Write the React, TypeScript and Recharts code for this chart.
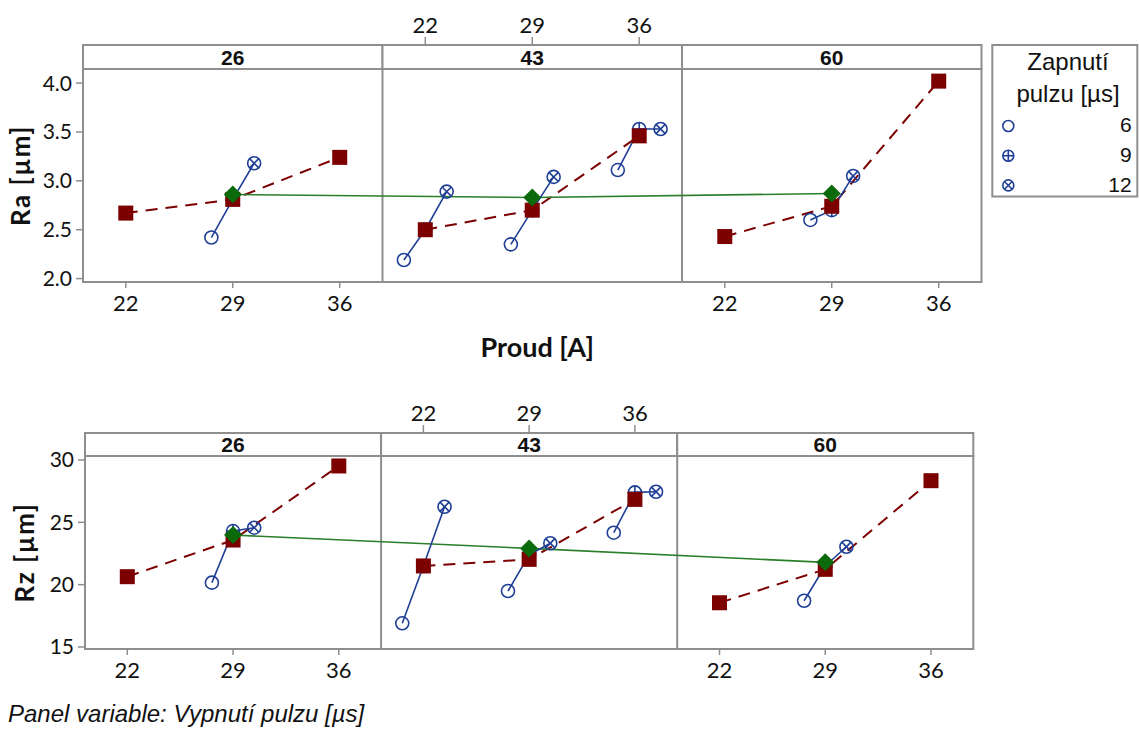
import React from "react";
import {
  ComposedChart,
  Line,
  XAxis,
  YAxis,
  Label,
  ReferenceLine,
  ReferenceArea,
} from "recharts";

// panel variable (Vypnutí pulzu), x variable (Proud), legend variable (Zapnutí pulzu)
const panels = [26, 43, 60];
const currents = [22, 29, 36];
const pulseOn = [6, 9, 12];

// Ra: mean per current in each panel (red squares)
const raCurrentMeans = [
  [2.67, 2.81, 3.24],
  [2.5, 2.7, 3.46],
  [2.43, 2.74, 4.02],
];
// Ra: panel means (green diamonds)
const raPanelMeans = [2.86, 2.83, 2.87];
// Ra: pulse-on means [6, 9, 12] per current, null = single observation
const raPulse26 = [null, [2.42, 2.81, 3.18], null];
const raPulse43 = [
  [2.19, 2.5, 2.89],
  [2.35, 2.7, 3.04],
  [3.11, 3.53, 3.53],
];
const raPulse60 = [null, [2.6, 2.7, 3.05], null];

// Rz
const rzCurrentMeans = [
  [20.64, 23.58, 29.52],
  [21.5, 22.03, 26.84],
  [18.55, 21.23, 28.34],
];
const rzPanelMeans = [23.98, 22.91, 21.79];
const rzPulse26 = [null, [20.16, 24.3, 24.57], null];
const rzPulse43 = [
  [16.9, 21.5, 26.25],
  [19.49, 22.4, 23.32],
  [24.17, 27.4, 27.45],
];
const rzPulse60 = [null, [18.71, 21.5, 23.04], null];

const raTicks = [2.0, 2.5, 3.0, 3.5, 4.0];
const rzTicks = [15, 20, 25, 30];

const GRID = "#8e8e8e";
const RED = "#7d0000";
const BLUE = "#1f3f96";
const GREEN = "#0b6a0b";
const GREEN_LINE = "#2b7f2b";
const TICK_FONT = "Lato, sans-serif";
const ARIAL = "'Liberation Sans', Arial, sans-serif";

// each panel spans the same current range; panels are laid side by side on one numeric axis
const X_MIN = 19.2;
const PANEL_SPAN = 19.6;
const DODGE = 1.4;
const gx = (p: number, c: number, k = 1) =>
  p * PANEL_SPAN + (c - X_MIN) + (k - 1) * DODGE;
const toLocal = (v: number) =>
  Math.round(v - Math.floor((v + 1e-6) / PANEL_SPAN) * PANEL_SPAN + X_MIN);

function PulseSymbol({ cx, cy, k, r = 6.5 }: { cx: number; cy: number; k: number; r?: number }) {
  const d = r * 0.7071;
  return (
    <g stroke={BLUE} strokeWidth={1.6} fill="none">
      <circle cx={cx} cy={cy} r={r} />
      {k === 1 && (
        <>
          <line x1={cx - r} x2={cx + r} y1={cy} y2={cy} />
          <line x1={cx} x2={cx} y1={cy - r} y2={cy + r} />
        </>
      )}
      {k === 2 && (
        <>
          <line x1={cx - d} x2={cx + d} y1={cy - d} y2={cy + d} />
          <line x1={cx - d} x2={cx + d} y1={cy + d} y2={cy - d} />
        </>
      )}
    </g>
  );
}

const squareDot = (props: any) => {
  const { cx, cy, index } = props;
  if (cx == null || cy == null) return <g key={index} />;
  return <rect key={index} x={cx - 7.5} y={cy - 7.5} width={15} height={15} fill={RED} />;
};

const diamondDot = (props: any) => {
  const { cx, cy, index } = props;
  if (cx == null || cy == null) return <g key={index} />;
  return (
    <path
      key={index}
      d={`M${cx},${cy - 9}L${cx + 9},${cy}L${cx},${cy + 9}L${cx - 9},${cy}Z`}
      fill={GREEN}
    />
  );
};

const pulseDot = (k: number) => (props: any) => {
  const { cx, cy, index } = props;
  if (cx == null || cy == null) return <g key={index} />;
  return (
    <g key={index}>
      <PulseSymbol cx={cx} cy={cy} k={k} />
    </g>
  );
};

interface RowProps {
  yLabel: string;
  currentMeans: number[][];
  panelMeans: number[];
  pulse: (number[] | null)[][];
  domain: [number, number];
  ticks: number[];
  fmt: (v: number) => string;
  top: number;
  width: number;
  height: number;
  yWidth: number;
  marginRight: number;
  stripH: number;
  bottomH: number;
  xTitle?: string;
  yLabelX: number;
}

function PanelRow(props: RowProps) {
  const { currentMeans, panelMeans, pulse, domain, ticks, stripH } = props;

  const bottomTicks = [0, 2].flatMap((p) => currents.map((c) => gx(p, c)));
  const topTicks = currents.map((c) => gx(1, c));

  const redSeries = panels.map((_, p) =>
    currents.map((c, ci) => ({ x: gx(p, c), y: currentMeans[p][ci] }))
  );
  const greenSeries = panels.map((_, p) => ({ x: gx(p, 29), y: panelMeans[p] }));
  const groups: { p: number; ci: number; pts: { x: number; y: number }[] }[] = [];
  pulse.forEach((panel, p) =>
    panel.forEach((vals, ci) => {
      if (!vals) return;
      groups.push({
        p,
        ci,
        pts: vals.map((y, k) => ({ x: gx(p, currents[ci], k), y })),
      });
    })
  );
  const markerSeries = pulseOn.map((_, k) => groups.map((g) => g.pts[k]));

  const BottomTick = ({ x, y, payload }: any) => (
    <g>
      <line x1={x} x2={x} y1={y} y2={y + 6} stroke={GRID} strokeWidth={1.5} />
      <text x={x} y={y + 29} textAnchor="middle" fontSize={22} fontFamily={TICK_FONT} fill="#111">
        {toLocal(payload.value)}
      </text>
    </g>
  );
  const TopTick = ({ x, y, payload }: any) => (
    <g>
      <line x1={x} x2={x} y1={y - stripH} y2={y - stripH - 8} stroke={GRID} strokeWidth={1.5} />
      <text x={x} y={y - stripH - 12} textAnchor="middle" fontSize={22} fontFamily={TICK_FONT} fill="#111">
        {toLocal(payload.value)}
      </text>
    </g>
  );
  const Strips = ({ viewBox }: any) => {
    if (!viewBox) return null;
    const w = viewBox.width / 3;
    const y0 = viewBox.y + viewBox.height - stripH;
    return (
      <g>
        {panels.map((pv, i) => (
          <g key={pv}>
            <rect x={viewBox.x + i * w} y={y0} width={w} height={stripH} fill="#fff" stroke={GRID} strokeWidth={2} />
            <text
              x={viewBox.x + i * w + w / 2}
              y={y0 + stripH / 2 + 7.5}
              textAnchor="middle"
              fontSize={21}
              fontWeight="bold"
              fontFamily={ARIAL}
              fill="#111"
            >
              {pv}
            </text>
          </g>
        ))}
      </g>
    );
  };
  const XTitle = ({ viewBox }: any) =>
    viewBox && props.xTitle ? (
      <text
        x={viewBox.x + viewBox.width / 2 + 5}
        y={viewBox.y + 75}
        textAnchor="middle"
        fontSize={27}
        fontWeight="bold"
        fontFamily={TICK_FONT}
        fill="#111"
      >
        {props.xTitle}
      </text>
    ) : null;
  const YTitle = ({ viewBox }: any) => {
    if (!viewBox) return null;
    const cx = props.yLabelX;
    const cy = viewBox.y + viewBox.height / 2;
    return (
      <text
        x={cx}
        y={cy}
        transform={`rotate(-90 ${cx} ${cy})`}
        textAnchor="middle"
        dominantBaseline="central"
        fontSize={26}
        letterSpacing={1.5}
        fontWeight="bold"
        fontFamily={TICK_FONT}
        fill="#111"
      >
        {props.yLabel}
      </text>
    );
  };

  const xMax = 3 * PANEL_SPAN;

  return (
    <div style={{ position: "absolute", left: 0, top: props.top }}>
      <ComposedChart
        width={props.width}
        height={props.height}
        margin={{ top: 0, right: props.marginRight, bottom: 0, left: 0 }}
      >
        <XAxis
          xAxisId="b"
          dataKey="x"
          type="number"
          domain={[0, xMax]}
          allowDataOverflow
          ticks={bottomTicks}
          interval={0}
          tick={BottomTick}
          tickSize={0}
          tickMargin={0}
          tickLine={false}
          axisLine={false}
          height={props.bottomH}
        >
          <Label content={XTitle} />
        </XAxis>
        <XAxis
          xAxisId="t"
          orientation="top"
          dataKey="x"
          type="number"
          domain={[0, xMax]}
          allowDataOverflow
          ticks={topTicks}
          interval={0}
          tick={TopTick}
          tickSize={0}
          tickMargin={0}
          tickLine={false}
          axisLine={false}
          height={69}
        >
          <Label content={Strips} />
        </XAxis>
        <YAxis
          type="number"
          domain={domain}
          allowDataOverflow
          ticks={ticks}
          interval={0}
          tickFormatter={props.fmt}
          width={props.yWidth}
          axisLine={false}
          tickLine={{ stroke: GRID, strokeWidth: 1.5 }}
          tickSize={7}
          tickMargin={4}
          tick={{ fill: "#111", fontSize: 21, fontFamily: TICK_FONT }}
        >
          <Label content={YTitle} />
        </YAxis>

        <ReferenceArea
          xAxisId="b"
          x1={0}
          x2={xMax}
          y1={domain[0]}
          y2={domain[1]}
          fill="none"
          stroke={GRID}
          strokeWidth={2}
          ifOverflow="visible"
        />
        {[1, 2].map((i) => (
          <ReferenceLine key={i} xAxisId="b" x={i * PANEL_SPAN} stroke={GRID} strokeWidth={2} />
        ))}

        {markerSeries.map((data, k) => (
          <Line
            key={`m${k}`}
            xAxisId="b"
            data={data}
            dataKey="y"
            stroke="none"
            dot={pulseDot(k)}
            activeDot={false}
            isAnimationActive={false}
          />
        ))}
        {redSeries.map((data, p) => (
          <Line
            key={`r${p}`}
            xAxisId="b"
            data={data}
            dataKey="y"
            type="linear"
            stroke={RED}
            strokeWidth={2}
            strokeDasharray="12 8"
            dot={squareDot}
            activeDot={false}
            isAnimationActive={false}
          />
        ))}
        <Line
          xAxisId="b"
          data={greenSeries}
          dataKey="y"
          type="linear"
          stroke={GREEN_LINE}
          strokeWidth={1.6}
          dot={diamondDot}
          activeDot={false}
          isAnimationActive={false}
        />
        {groups.map((g) => (
          <Line
            key={`g${g.p}-${g.ci}`}
            xAxisId="b"
            data={g.pts}
            dataKey="y"
            type="linear"
            stroke={BLUE}
            strokeWidth={1.6}
            dot={false}
            activeDot={false}
            isAnimationActive={false}
          />
        ))}
      </ComposedChart>
    </div>
  );
}

function Legend() {
  return (
    <svg style={{ position: "absolute", left: 991, top: 44 }} width={148} height={154}>
      <rect x={1.3} y={1} width={145} height={151.5} fill="#fff" stroke={GRID} strokeWidth={2} />
      <text x={77} y={26} textAnchor="middle" fontSize={24} fontFamily={ARIAL} fill="#111">
        Zapnutí
      </text>
      <text x={77} y={57.5} textAnchor="middle" fontSize={24} fontFamily={ARIAL} fill="#111">
        pulzu [µs]
      </text>
      {pulseOn.map((v, k) => (
        <g key={v}>
          <PulseSymbol cx={17.3} cy={82 + k * 29.7} k={k} r={5.5} />
          <text x={140.7} y={87.7 + k * 30} textAnchor="end" fontSize={21} fontFamily={ARIAL} fill="#111">
            {v}
          </text>
        </g>
      ))}
    </svg>
  );
}

export default function App() {
  return (
    <div
      style={{
        position: "absolute",
        left: 0,
        top: 0,
        width: 1139,
        height: 731,
        background: "#fff",
        overflow: "hidden",
      }}
    >
      <PanelRow
        yLabel="Ra [µm]"
        currentMeans={raCurrentMeans}
        panelMeans={raPanelMeans}
        pulse={[raPulse26, raPulse43, raPulse60]}
        domain={[1.965, 4.144]}
        ticks={raTicks}
        fmt={(v) => v.toFixed(1)}
        top={0}
        width={990}
        height={372}
        yWidth={83}
        marginRight={8.5}
        stripH={24}
        bottomH={90}
        xTitle="Proud [A]"
        yLabelX={20}
      />
      <PanelRow
        yLabel="Rz [µm]"
        currentMeans={rzCurrentMeans}
        panelMeans={rzPanelMeans}
        pulse={[rzPulse26, rzPulse43, rzPulse60]}
        domain={[14.84, 30.32]}
        ticks={rzTicks}
        fmt={(v) => String(v)}
        top={387}
        width={980}
        height={302}
        yWidth={85}
        marginRight={6.7}
        stripH={23}
        bottomH={40}
        yLabelX={24}
      />
      <Legend />
      <svg style={{ position: "absolute", left: 0, top: 690 }} width={500} height={41}>
        <text x={8} y={32} fontSize={24} fontStyle="italic" fontFamily={ARIAL} fill="#111">
          Panel variable: Vypnutí pulzu [µs]
        </text>
      </svg>
    </div>
  );
}
